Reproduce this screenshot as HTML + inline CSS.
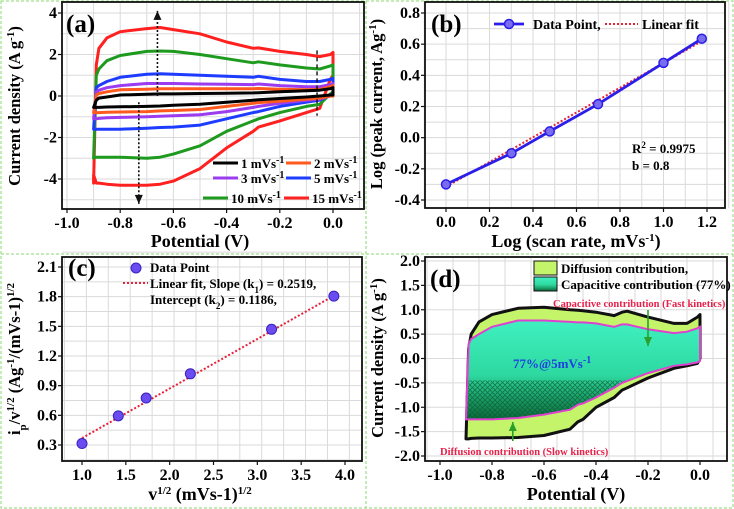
<!DOCTYPE html>
<html><head><meta charset="utf-8"><style>
html,body{margin:0;padding:0;background:#fff}
svg{display:block;font-family:"Liberation Serif",serif;font-weight:bold}
</style></head><body>
<svg id="fig" width="734" height="509" viewBox="0 0 734 509" xmlns="http://www.w3.org/2000/svg">
<defs>
<linearGradient id="tealGrad" x1="0" y1="0" x2="0" y2="1">
<stop offset="0" stop-color="#3ff0c0"/><stop offset="0.55" stop-color="#2ed9a0"/><stop offset="1" stop-color="#0a6a3a"/>
</linearGradient>
<pattern id="hatch" width="5" height="5" patternUnits="userSpaceOnUse">
<path d="M0,0L5,5M5,0L0,5" stroke="#0b5a30" stroke-width="0.8"/>
</pattern>
</defs>
<rect x="1" y="1" width="732" height="507" fill="none" stroke="#8ad86e" stroke-dasharray="3,2"/>
<line x1="366" y1="1" x2="366" y2="508" stroke="#8ad86e" stroke-dasharray="3,2"/>
<line x1="1" y1="254" x2="733" y2="254" stroke="#8ad86e" stroke-dasharray="3,2"/>
<g id="root"></g>
</svg>
<script>
// ---------- Panel (a) data ----------
const aX = [-0.9,-0.89,-0.88,-0.85,-0.8,-0.7,-0.65,-0.6,-0.5,-0.4,-0.3,-0.28,-0.2,-0.1,-0.05,-0.01,0];
const aLabels = ['1 mVs','2 mVs','3 mVs','5 mVs','10 mVs','15 mVs'];
const aColors = ['#000000','#ff5a1e','#9b3cf0','#1e3cff','#1e9a1e','#ff2020'];
const aUp1  = [-0.55,-0.2,-0.1,-0.05,0.05,0.08,0.1,0.1,0.12,0.13,0.15,0.16,0.2,0.25,0.28,0.35,0.4];
const aUp2  = [-0.8,0.05,0.12,0.2,0.3,0.33,0.35,0.35,0.35,0.35,0.35,0.36,0.33,0.3,0.32,0.45,0.5];
const aUp3  = [-1.1,0.2,0.28,0.4,0.5,0.6,0.6,0.6,0.58,0.57,0.55,0.58,0.5,0.45,0.45,0.55,0.6];
const aUp5  = [-1.6,0.4,0.5,0.7,0.9,1.05,1.07,1.05,1.0,0.95,0.9,0.95,0.8,0.7,0.7,0.8,0.85];
const aUp10 = [-3.0,1.0,1.3,1.7,1.95,2.15,2.17,2.15,2.0,1.8,1.6,1.65,1.5,1.35,1.3,1.45,1.5];
const aUp15 = [-4.2,1.5,2.3,2.8,3.1,3.25,3.3,3.2,3.0,2.6,2.3,2.32,2.15,2.0,1.9,2.0,2.1];
const aLo1  = [-0.55,-0.55,-0.55,-0.53,-0.52,-0.5,-0.48,-0.45,-0.4,-0.3,-0.2,-0.18,-0.12,-0.05,0.0,0.05,0.05];
const aLo2  = [-0.8,-0.8,-0.8,-0.78,-0.77,-0.75,-0.72,-0.7,-0.65,-0.5,-0.35,-0.32,-0.25,-0.15,-0.1,0.0,0.0];
const aLo3  = [-1.1,-1.1,-1.08,-1.05,-1.03,-1.0,-0.98,-0.95,-0.9,-0.75,-0.55,-0.5,-0.35,-0.2,-0.15,0.0,0.0];
const aLo5  = [-1.6,-1.6,-1.6,-1.6,-1.6,-1.55,-1.52,-1.5,-1.4,-1.1,-0.8,-0.75,-0.5,-0.3,-0.2,0.05,0.1];
const aLo10 = [-2.95,-2.95,-2.95,-2.95,-2.95,-3.0,-2.95,-2.8,-2.4,-1.7,-1.2,-1.1,-0.8,-0.5,-0.4,0.1,0.2];
const aLo15 = [-3.8,-4.2,-4.2,-4.25,-4.3,-4.3,-4.25,-4.1,-3.5,-2.5,-1.7,-1.5,-1.2,-0.8,-0.6,0.8,1.0];
const aXTicks = [-1.0,-0.8,-0.6,-0.4,-0.2,0.0];
const aYTicks = [4,2,0,-2,-4];
// ---------- Panel (b) data ----------
const bX = [0,0.301,0.477,0.699,1.0,1.176];
const bY = [-0.3,-0.1,0.04,0.215,0.48,0.635];
const bFit = [0.795,-0.315]; // slope, intercept
const bXTicks = [0.0,0.2,0.4,0.6,0.8,1.0,1.2];
const bYTicks = [0.8,0.6,0.4,0.2,0.0,-0.2,-0.4];
// ---------- Panel (c) data ----------
const cX = [1.0,1.414,1.732,2.236,3.162,3.873];
const cY = [0.315,0.595,0.775,1.02,1.47,1.805];
const cFitX = [1.0,3.873];
const cFitY = [0.37,1.81];
const cXTicks = [1.0,1.5,2.0,2.5,3.0,3.5,4.0];
const cYTicks = [2.1,1.8,1.5,1.2,0.9,0.6,0.3];
// ---------- Panel (d) data ----------
const dX = [-0.9,-0.89,-0.88,-0.85,-0.8,-0.7,-0.6,-0.5,-0.47,-0.45,-0.4,-0.33,-0.3,-0.28,-0.2,-0.1,-0.05,-0.01,0];
const dOutUp = [-1.65,0.2,0.5,0.75,0.9,1.03,1.05,1.0,0.99,0.98,0.95,0.88,0.95,0.97,0.85,0.72,0.72,0.85,0.9];
const dOutLo = [-1.65,-1.65,-1.64,-1.63,-1.63,-1.62,-1.58,-1.45,-1.3,-1.25,-1.0,-0.8,-0.65,-0.6,-0.4,-0.2,-0.15,-0.1,0.0];
const dInUp = [-1.25,0.3,0.4,0.5,0.65,0.78,0.78,0.75,0.74,0.74,0.72,0.65,0.7,0.7,0.6,0.52,0.55,0.62,0.65];
const dInLo = [-1.25,-1.25,-1.25,-1.25,-1.25,-1.22,-1.15,-1.05,-0.95,-0.92,-0.8,-0.6,-0.5,-0.46,-0.3,-0.15,-0.12,-0.08,-0.05];
const dXTicks = [-1.0,-0.8,-0.6,-0.4,-0.2,0.0];
const dYTicks = [2.0,1.5,1.0,0.5,0.0,-0.5,-1.0,-1.5,-2.0];

const NS='http://www.w3.org/2000/svg';
const root=document.getElementById('root');
function mk(tag,attrs,parent,text){const e=document.createElementNS(NS,tag);for(const k in attrs)e.setAttribute(k,attrs[k]);if(text!==undefined)e.textContent=text;(parent||root).appendChild(e);return e;}
function lin(d0,d1,r0,r1){return v=>r0+(v-d0)*(r1-r0)/(d1-d0);}
function fmt(v,n){return v.toFixed(n);}

function frame(g,L,T,R,B,xs,ys,xTicks,yTicks,xDec,yDec,gridX,gridY){
  gridX.forEach(v=>{const l=mk('line',{x1:xs(v),x2:xs(v),y1:T,y2:B,stroke:'#dadada','stroke-width':1},g);
    
    });
  gridY.forEach(v=>{const l=mk('line',{x1:L,x2:R,y1:ys(v),y2:ys(v),stroke:'#dadada','stroke-width':1},g);
    
    });
  const r=mk('rect',{x:L,y:T,width:R-L,height:B-T,fill:'none',stroke:'#111','stroke-width':1.8},g);
  
  
  xTicks.forEach(v=>{const x=xs(v);mk('line',{x1:x,x2:x,y1:B,y2:B+4,stroke:'#111','stroke-width':1.2},g);
    const t=mk('text',{x:x,y:B+19,'text-anchor':'middle','font-size':16},g,fmt(v,xDec));
    
    });
  yTicks.forEach(v=>{const y=ys(v);mk('line',{x1:L-4,x2:L,y1:y,y2:y,stroke:'#111','stroke-width':1.2},g);
    const t=mk('text',{x:L-5,y:y+5,'text-anchor':'end','font-size':16},g,fmt(v,yDec));
    
    });
}
function rng(a,b,s){const o=[];for(let v=a;v<=b+1e-9;v+=s)o.push(+v.toFixed(4));return o;}
function pathXY(xs,ys,X,Y){return X.map((v,i)=>(i?'L':'M')+xs(v).toFixed(1)+','+ys(Y[i]).toFixed(1)).join('');}
function loopPath(xs,ys,X,U,Lo){
  let d=pathXY(xs,ys,X,U);
  for(let i=X.length-1;i>=0;i--)d+='L'+xs(X[i]).toFixed(1)+','+ys(Lo[i]).toFixed(1);
  return d+'Z';
}
function ytitle(g,x,y,parts){
  const t=mk('text',{transform:`translate(${x},${y}) rotate(-90)`,'text-anchor':'middle','font-size':16.5},g);
  parts.forEach(p=>{const s=mk('tspan',p[1]?{'baseline-shift':p[1],'font-size':11}:{},t,p[0]);});
  return t;
}
function arrow(g,x1,y1,x2,y2,color,dash){
  mk('line',{x1,y1,x2,y2,stroke:color,'stroke-width':1.6,'stroke-dasharray':dash},g);
  const dir=y2<y1?-1:1;
  mk('path',{d:`M${x2},${y2}L${x2-4},${y2-dir*9}L${x2+4},${y2-dir*9}Z`,fill:color},g);
}

// ================= Panel (a) =================
(function(){
  const g=mk('g',{});
  
  
  const L=62,T=2,R=364,B=209;
  const xs=lin(-1.0,0.0,67,333), ys=lin(4,-4,13,179);
  frame(g,L,T,R,B,xs,ys,aXTicks,aYTicks,1,0,rng(-1.0,0.1,0.1),rng(-5,4,1));
  const ups=[aUp1,aUp2,aUp3,aUp5,aUp10,aUp15], los=[aLo1,aLo2,aLo3,aLo5,aLo10,aLo15];
  for(let s=ups.length-1;s>=0;s--){
    const p=mk('path',{d:loopPath(xs,ys,aX,ups[s],los[s]),fill:'none',stroke:aColors[s],'stroke-width':3,'stroke-linejoin':'round'},g);
    
    
  }
  arrow(g,xs(-0.66),ys(0),xs(-0.66),ys(4.1),'#111','2,2');
  arrow(g,xs(-0.73),ys(-0.3),xs(-0.73),ys(-5.2),'#111','2,2');
  mk('line',{x1:xs(-0.06),y1:ys(2.2),x2:xs(-0.06),y2:ys(-0.95),stroke:'#111','stroke-width':1.4,'stroke-dasharray':'4,3'},g);
  const lab=mk('text',{x:66,y:32,'font-size':25},g,'(a)');
  
  
  const pos=[[213,163],[286,163],[213,178],[286,178],[203,198],[284,198]];
  aLabels.forEach((lb,i)=>{
    const [x,y]=pos[i];
    const le=mk('g',{},g);
    
    
    mk('line',{x1:x,x2:x+25,y1:y,y2:y,stroke:aColors[i],'stroke-width':3},le);
    const t=mk('text',{x:x+28,y:y+5,'font-size':13},le,lb);
    mk('tspan',{'baseline-shift':'super','font-size':10},t,'-1');
  });
  const xt=mk('text',{x:200,y:247,'text-anchor':'middle','font-size':18},g,'Potential (V)');
  
  
  const yt=ytitle(g,20,106,[['Current density (A g'],['-1','super'],[')']]);
  
  
})();

// ================= Panel (b) =================
(function(){
  const g=mk('g',{});
  
  
  const L=425,T=2,R=725,B=208;
  const xs=lin(0,1.2,446,707), ys=lin(0.8,-0.4,13,200);
  frame(g,L,T,R,B,xs,ys,bXTicks,bYTicks,1,1,rng(-0.1,1.3,0.1),rng(-0.4,0.8,0.1));
  const fx=[bX[0],bX[bX.length-1]];
  const fit=mk('path',{d:pathXY(xs,ys,fx,fx.map(v=>bFit[0]*v+bFit[1])),stroke:'#e8203a','stroke-width':2,'stroke-dasharray':'2,2',fill:'none'},g);
  
  
  const ln=mk('path',{d:pathXY(xs,ys,bX,bY),stroke:'#2a1ee8','stroke-width':2.8,fill:'none'},g);
  
  
  bX.forEach((v,i)=>{const c=mk('circle',{cx:xs(v),cy:ys(bY[i]),r:4.5,fill:'#7a6cf0',stroke:'#2a1ee8','stroke-width':1.5},g);
    
    });
  const lab=mk('text',{x:431,y:32,'font-size':25},g,'(b)');
  
  
  const le=mk('g',{},g);
  
  
  mk('line',{x1:494,x2:524,y1:24,y2:24,stroke:'#2a1ee8','stroke-width':2.8},le);
  mk('circle',{cx:509,cy:24,r:4.5,fill:'#7a6cf0',stroke:'#2a1ee8','stroke-width':1.5},le);
  mk('text',{x:533,y:29,'font-size':14},le,'Data Point,');
  mk('line',{x1:605,x2:638,y1:24,y2:24,stroke:'#e8203a','stroke-width':2,'stroke-dasharray':'2,2'},le);
  mk('text',{x:642,y:29,'font-size':14},le,'Linear fit');
  const r2=mk('text',{x:632,y:153,'font-size':13},g,'R');
  mk('tspan',{'baseline-shift':'super','font-size':9},r2,'2');
  mk('tspan',{},r2,' = 0.9975');
  
  
  const bb=mk('text',{x:632,y:170,'font-size':13},g,'b = 0.8');
  
  
  const xt=mk('text',{x:576,y:247,'text-anchor':'middle','font-size':18},g,'Log (scan rate, mVs');
  mk('tspan',{'baseline-shift':'super','font-size':11},xt,'-1');
  mk('tspan',{},xt,')');
  
  
  const yt=ytitle(g,382,104,[['Log (peak current, Ag'],['-1','super'],[')']]);
  
  
})();

// ================= Panel (c) =================
(function(){
  const g=mk('g',{});
  
  
  const L=62,T=257,R=362,B=461;
  const xs=lin(1.0,4.0,82,345), ys=lin(2.1,0.3,267,445);
  frame(g,L,T,R,B,xs,ys,cXTicks,cYTicks,1,1,rng(0.8,4.2,0.25),rng(0.15,2.25,0.15));
  const fit=mk('path',{d:pathXY(xs,ys,cFitX,cFitY),stroke:'#e8203a','stroke-width':2,'stroke-dasharray':'2,2',fill:'none'},g);
  
  
  cX.forEach((v,i)=>{const c=mk('circle',{cx:xs(v),cy:ys(cY[i]),r:5,fill:'#6a4cf0',stroke:'#3a20c0','stroke-width':1},g);
    
    });
  const lab=mk('text',{x:68,y:276,'font-size':25},g,'(c)');
  
  
  const le=mk('g',{},g);
  
  
  mk('circle',{cx:136,cy:268,r:5,fill:'#6a4cf0',stroke:'#3a20c0'},le);
  mk('text',{x:150,y:272,'font-size':13},le,'Data Point');
  mk('line',{x1:123,x2:148,y1:283,y2:283,stroke:'#e8203a','stroke-width':2,'stroke-dasharray':'2,2'},le);
  const t1=mk('text',{x:150,y:288,'font-size':13},le,'Linear fit, Slope (k');
  mk('tspan',{'baseline-shift':'sub','font-size':9},t1,'1');
  mk('tspan',{},t1,') = 0.2519,');
  const t2=mk('text',{x:150,y:304,'font-size':13},le,'Intercept (k');
  mk('tspan',{'baseline-shift':'sub','font-size':9},t2,'2');
  mk('tspan',{},t2,') = 0.1186,');
  const xt=mk('text',{x:200,y:500,'text-anchor':'middle','font-size':18},g,'v');
  mk('tspan',{'baseline-shift':'super','font-size':11},xt,'1/2');
  mk('tspan',{},xt,' (mVs-1)');
  mk('tspan',{'baseline-shift':'super','font-size':11},xt,'1/2');
  
  
  const yt=ytitle(g,20,359,[['i'],['p','sub'],['/v'],['1/2','super'],[' (Ag'],['-1','super'],['/(mVs-1)'],['1/2','super']]);
  
  
})();

// ================= Panel (d) =================
(function(){
  const g=mk('g',{});
  
  
  const L=425,T=257,R=727,B=461;
  const xs=lin(-1.0,0.0,440,700), ys=lin(2.0,-2.0,261,456);
  frame(g,L,T,R,B,xs,ys,dXTicks,dYTicks,1,1,rng(-1.05,0.1,0.1),rng(-2,2,0.5));
  const o=mk('path',{d:loopPath(xs,ys,dX,dOutUp,dOutLo),fill:'#c4f46a',stroke:'#111','stroke-width':3,'stroke-linejoin':'round'},g);
  
  
  const ip=loopPath(xs,ys,dX,dInUp,dInLo);
  const i1=mk('path',{d:ip,fill:'url(#tealGrad)',stroke:'none'},g);
  
  
  const cp=mk('clipPath',{id:'lowClip'},g);mk('rect',{x:L,y:ys(-0.45),width:R-L,height:B-ys(-0.45)},cp);
  mk('path',{d:ip,fill:'url(#hatch)',opacity:0.7,'clip-path':'url(#lowClip)'},g);
  mk('path',{d:ip,fill:'none',stroke:'#e040d0','stroke-width':2},g);
  const lab=mk('text',{x:430,y:287,'font-size':25},g,'(d)');
  
  
  const le=mk('g',{},g);
  
  
  mk('rect',{x:534,y:261,width:23,height:14,fill:'#c4f46a',stroke:'#111'},le);
  mk('text',{x:561,y:273,'font-size':13},le,'Diffusion contribution,');
  mk('rect',{x:534,y:277,width:23,height:14,fill:'url(#tealGrad)',stroke:'#111'},le);
  mk('text',{x:561,y:289,'font-size':13},le,'Capacitive contribution (77%)');
  const c1=mk('text',{x:553,y:307,'font-size':10.5,fill:'#e8204a'},g,'Capacitive contribution (Fast kinetics)');
  
  
  const c2=mk('text',{x:440,y:455,'font-size':10.5,fill:'#e8204a'},g,'Diffusion contribution (Slow kinetics)');
  
  
  const c3=mk('text',{x:513,y:368,'font-size':13,fill:'#1e40e0'},g,'77%@5mVs');
  mk('tspan',{'baseline-shift':'super','font-size':10},c3,'-1');
  
  
  arrow(g,xs(-0.2),310,xs(-0.2),346,'#2aa02a','none');
  arrow(g,xs(-0.72),441,xs(-0.72),422,'#2aa02a','none');
  const xt=mk('text',{x:576,y:500,'text-anchor':'middle','font-size':18},g,'Potential (V)');
  
  
  const yt=ytitle(g,383,358,[['Current density (A g'],['-1','super'],[')']]);
  
  
})();
</script>
</body></html>
